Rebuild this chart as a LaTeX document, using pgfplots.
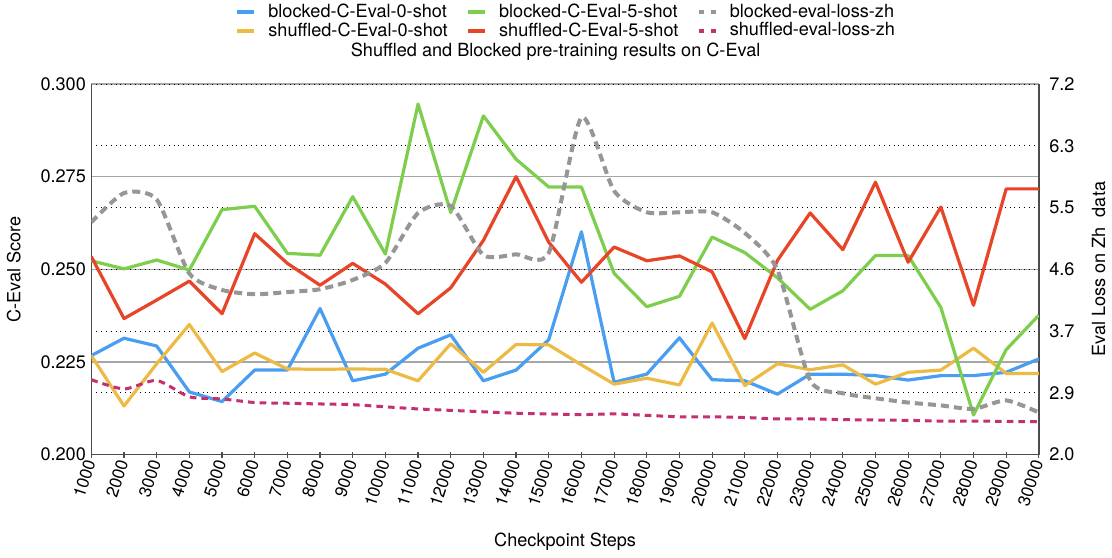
\documentclass[border=0pt]{standalone}
\usepackage{pgfplots}
\pgfplotsset{compat=1.18}
\usepackage{pgfplotstable}
\usepackage{fontspec}
\setmainfont{TeX Gyre Heros}
\definecolor{cblue}{HTML}{4A9EF1}
\definecolor{cyellow}{HTML}{EDBB45}
\definecolor{cgreen}{HTML}{7ECE4E}
\definecolor{cred}{HTML}{E84428}
\definecolor{cgray}{HTML}{969696}
\definecolor{cmag}{HTML}{C43172}
\pgfplotstableread{
step b0 s0 b5 s5 bl sl
1000 0.2267 0.2267 0.2523 0.2534 5.26 3.05
2000 0.2314 0.2131 0.2501 0.2367 5.67 2.92
3000 0.2293 0.2245 0.2525 0.2417 5.58 3.04
4000 0.2169 0.2351 0.2498 0.2468 4.54 2.81
5000 0.2143 0.2224 0.2661 0.2380 4.31 2.78
6000 0.2228 0.2274 0.2670 0.2596 4.25 2.73
7000 0.2228 0.2231 0.2543 0.2516 4.28 2.72
8000 0.2394 0.2230 0.2538 0.2457 4.32 2.71
9000 0.2199 0.2231 0.2696 0.2516 4.45 2.70
10000 0.2217 0.2230 0.2541 0.2460 4.69 2.67
11000 0.2287 0.2199 0.2946 0.2380 5.39 2.64
12000 0.2323 0.2299 0.2653 0.2450 5.49 2.62
13000 0.2199 0.2222 0.2914 0.2578 4.80 2.60
14000 0.2228 0.2297 0.2797 0.2750 4.81 2.58
15000 0.2310 0.2296 0.2722 0.2573 4.83 2.57
16000 0.2601 0.2242 0.2722 0.2465 6.73 2.56
17000 0.2195 0.2190 0.2489 0.2560 5.70 2.57
18000 0.2217 0.2206 0.2399 0.2523 5.40 2.55
19000 0.2315 0.2188 0.2427 0.2536 5.40 2.53
20000 0.2202 0.2355 0.2587 0.2493 5.40 2.53
21000 0.2199 0.2186 0.2545 0.2313 5.11 2.52
22000 0.2163 0.2245 0.2477 0.2524 4.59 2.50
23000 0.2217 0.2229 0.2392 0.2652 3.04 2.50
24000 0.2217 0.2242 0.2442 0.2553 2.86 2.49
25000 0.2213 0.2190 0.2537 0.2735 2.79 2.485
26000 0.2201 0.2222 0.2537 0.2519 2.73 2.48
27000 0.2213 0.2228 0.2397 0.2668 2.69 2.47
28000 0.2213 0.2287 0.2107 0.2403 2.64 2.47
29000 0.2222 0.2219 0.2283 0.2717 2.76 2.465
30000 0.2258 0.2219 0.2376 0.2717 2.59 2.46
}\data
\pgfplotsset{
  every axis/.append style={font=\fontsize{9}{11}\selectfont},
  /pgf/number format/assume math mode=true,
}
\begin{document}
\begin{tikzpicture}
\pgfplotsset{set layers}
\begin{axis}[
  scale only axis, width=470.5pt, height=184pt,
  xmin=1000, xmax=30000, ymin=0.2, ymax=0.3,
  scaled x ticks=false, scaled y ticks=false,
  axis y line*=left, axis x line*=bottom,
  axis line style={black!70, line width=0.7pt},
  xtick={1000,2000,...,30000},
  xticklabels={1000,2000,3000,4000,5000,6000,7000,8000,9000,10000,11000,12000,13000,14000,15000,16000,17000,18000,19000,20000,21000,22000,23000,24000,25000,26000,27000,28000,29000,30000},
  x tick label style={rotate=72, anchor=east, font=\fontsize{8.5}{10}\selectfont, inner sep=1.5pt},
  xtick style={black!70, line width=0.6pt},
  tick align=center, major tick length=3pt,
  ytick={0.2,0.225,0.25,0.275,0.3},
  yticklabels={0.200,0.225,0.250,0.275,0.300},
  ytick style={draw=none},
  y tick label style={inner sep=1pt},
  ymajorgrids, major grid style={black!35, line width=0.7pt},
  ylabel={C-Eval Score},
  ylabel style={at={(axis description cs:-0.082,0.5)}, anchor=center},
  xlabel={Checkpoint Steps},
  xlabel style={at={(axis description cs:0.5,-0.236)}, anchor=center},
  line join=round,
]
\addplot[cblue, line width=1.6pt] table[x=step, y=b0] {\data};
\addplot[cyellow, line width=1.6pt] table[x=step, y=s0] {\data};
\addplot[cgreen, line width=1.6pt] table[x=step, y=b5] {\data};
\addplot[cred, line width=1.6pt] table[x=step, y=s5] {\data};
\end{axis}
\begin{axis}[
  scale only axis, width=470.5pt, height=184pt,
  xmin=1000, xmax=30000, ymin=2, ymax=7.2,
  scaled x ticks=false, scaled y ticks=false,
  axis y line*=right, axis x line=none,
  axis line style={black!70, line width=0.7pt},
  ytick={2,2.86667,3.73333,4.6,5.46667,6.33333,7.2},
  yticklabels={2.0,2.9,3.7,4.6,5.5,6.3,7.2},
  ytick style={draw=none},
  y tick label style={inner sep=1pt, xshift=4pt},
  ymajorgrids, major grid style={black, dotted, line width=0.5pt},
  ylabel={Eval Loss on Zh\ \ data},
  ylabel style={at={(axis description cs:1.063,0.5)}, anchor=center},
  title={Shuffled and Blocked pre-training results on C-Eval},
  title style={at={(axis description cs:0.49,1)}, anchor=center, yshift=10pt},
  legend columns=3, legend cell align=left,
  legend style={at={(axis description cs:0.5,1)}, anchor=center, yshift=31pt, draw=none, fill=none,
    font=\fontsize{9}{11}\selectfont, row sep=-3pt, inner sep=0pt,
    nodes={inner xsep=0pt},
    /tikz/every even column/.append style={column sep=9pt},
    /tikz/every odd column/.append style={column sep=6pt}},
  legend image code/.code={\draw[#1] (0pt,0pt) -- (8.5pt,0pt);},
  line join=round,
]
\addlegendimage{cblue, line width=2pt}
\addlegendentry{blocked-C-Eval-0-shot}
\addlegendimage{cgreen, line width=2pt}
\addlegendentry{blocked-C-Eval-5-shot}
\addlegendimage{cgray, line width=2pt, dash pattern=on 2.5pt off 3.5pt}
\addlegendentry{blocked-eval-loss-zh}
\addlegendimage{cyellow, line width=2pt}
\addlegendentry{shuffled-C-Eval-0-shot}
\addlegendimage{cred, line width=2pt}
\addlegendentry{shuffled-C-Eval-5-shot}
\addlegendimage{cmag, line width=2pt, dash pattern=on 2.5pt off 3.5pt}
\addlegendentry{shuffled-eval-loss-zh}
\addplot[cgray, line width=2pt, dash pattern=on 4pt off 2.5pt, smooth, tension=0.4, forget plot] table[x=step, y=bl] {\data};
\addplot[cmag, line width=1.5pt, dash pattern=on 3.3pt off 2.5pt, smooth, tension=0.4, forget plot] table[x=step, y=sl] {\data};
\end{axis}
\end{tikzpicture}
\end{document}
